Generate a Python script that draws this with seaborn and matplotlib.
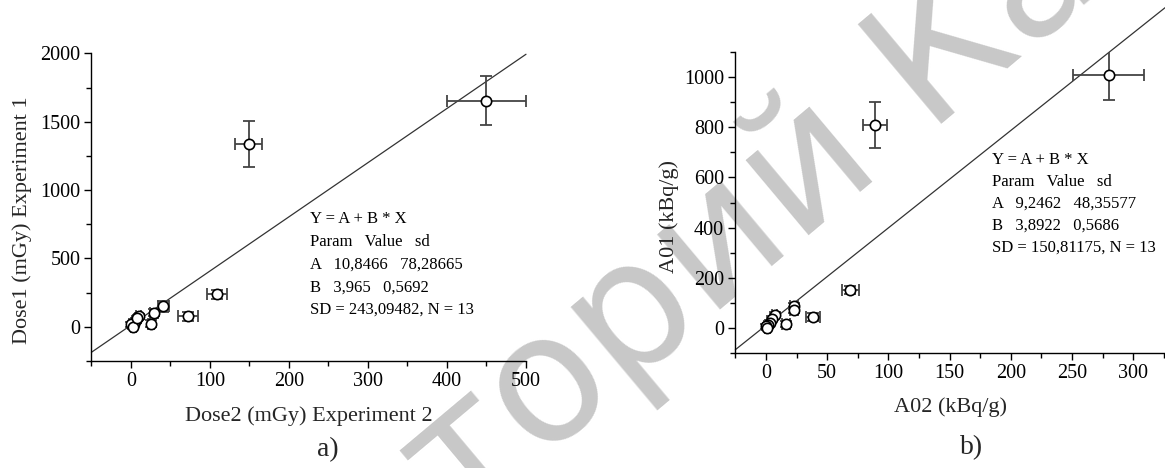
import matplotlib
matplotlib.use("Agg")
import matplotlib.pyplot as plt
import numpy as np
import pandas as pd
import seaborn as sns
from matplotlib.ticker import MultipleLocator

# panel a) Dose2 vs Dose1
dose2 = [450, 149, 109, 72, 41, 29, 25, 10, 6, 4, 0, 3, 8]
dose1 = [1654, 1334, 238, 76, 150, 101, 22, 76, 47, 22, 17, 0, 60]
dose2_err = [50, 17, 12.5, 13, 7, 5, 4, 3, 3, 3, 3, 3, 3]
dose1_err = [180, 168, 32, 33, 40, 25, 25, 20, 20, 20, 20, 20, 20]
fit_a = (10.8466, 3.965)
text_a = ["Y = A + B * X", "Param   Value   sd", "A   10,8466   78,28665",
          "B   3,965   0,5692", "SD = 243,09482, N = 13"]

# panel b) A02 vs A01
a02 = [280, 89, 69, 38.5, 23, 23, 16.5, 7, 5, 3, 2, 0, 1]
a01 = [1009, 811, 151, 42, 87, 71, 15, 51, 35, 20, 10, 5, 0]
a02_err = [29, 9.5, 7, 6, 3, 3, 3, 2, 2, 2, 2, 2, 2]
a01_err = [98, 92, 15, 15, 12, 12, 12, 10, 10, 10, 10, 10, 10]
fit_b = (9.2462, 3.8922)
text_b = ["Y = A + B * X", "Param   Value   sd", "A   9,2462   48,35577",
          "B   3,8922   0,5686", "SD = 150,81175, N = 13"]

sns.set_theme(style="ticks")
plt.rcParams["font.family"] = ["Liberation Serif", "DejaVu Serif"]

fig = plt.figure(figsize=(11.65, 4.68), dpi=100)
ax1 = fig.add_axes([0.0785, 0.229, 0.373, 0.657])
ax2 = fig.add_axes([0.6312, 0.2464, 0.3688, 0.6418])

# watermark (partly outside the frame, as in the scan)
fig.text(752 / 1165, 1 - 218 / 468, "торий Ка", fontsize=128, color="#c8c8c8",
         family="DejaVu Sans", rotation=40,
         rotation_mode="anchor", ha="center", va="center", zorder=-5)


def panel(ax, x, y, xerr, yerr, fit, xlim, ylim, lines, tx, ty, dy):
    ax.set_facecolor("none")
    xs = np.array(xlim, dtype=float)
    ax.plot(xs, fit[0] + fit[1] * xs, color="#333333", lw=0.9, clip_on=False, zorder=1)
    ax.errorbar(x, y, xerr=xerr, yerr=yerr, fmt="none", ecolor="#444444",
                elinewidth=1.3, capsize=4, capthick=1.3, zorder=2)
    df = pd.DataFrame({"x": x, "y": y})
    sns.scatterplot(data=df, x="x", y="y", ax=ax, s=55, facecolor="white",
                    edgecolor="black", linewidth=1.2, zorder=3)
    ax.set_xlim(*xlim)
    ax.set_ylim(*ylim)
    sns.despine(ax=ax)
    for s in ("left", "bottom"):
        ax.spines[s].set_linewidth(1.0)
        ax.spines[s].set_color("black")
    ax.tick_params(which="major", direction="out", length=5, width=1, labelsize=14.5,
                   color="black", labelcolor="black", pad=3)
    ax.tick_params(which="minor", direction="out", length=3.5, width=1, color="black")
    for i, line in enumerate(lines):
        ax.text(tx, ty - i * dy, line, transform=ax.transAxes, fontsize=12,
                ha="left", va="center", color="black")


panel(ax1, dose2, dose1, dose2_err, dose1_err, fit_a, (-50, 500), (-250, 2000),
      text_a, 0.503, 0.461, 0.0738)
ax1.xaxis.set_major_locator(MultipleLocator(100))
ax1.xaxis.set_minor_locator(MultipleLocator(50))
ax1.yaxis.set_major_locator(MultipleLocator(500))
ax1.yaxis.set_minor_locator(MultipleLocator(250))
ax1.set_xlabel("Dose2 (mGy) Experiment 2", fontsize=16)
ax1.set_ylabel("Dose1 (mGy) Experiment 1", fontsize=16)
ax1.xaxis.set_label_coords(0.5, -0.147)
ax1.yaxis.set_label_coords(-0.137, 0.458)

panel(ax2, a02, a01, a02_err, a01_err, fit_b, (-25, 326), (-100, 1100),
      text_b, 0.597, 0.6415, 0.0732)
ax2.xaxis.set_major_locator(MultipleLocator(50))
ax2.xaxis.set_minor_locator(MultipleLocator(25))
ax2.yaxis.set_major_locator(MultipleLocator(200))
ax2.yaxis.set_minor_locator(MultipleLocator(100))
ax2.set_yticks([0, 200, 400, 600, 800, 1000])
ax2.set_xlabel("A02 (kBq/g)", fontsize=16)
ax2.set_ylabel("A01 (kBq/g)", fontsize=16)
ax2.xaxis.set_label_coords(0.5, -0.147)
ax2.yaxis.set_label_coords(-0.131, 0.452)

fig.text(328 / 1165, 1 - 450 / 468, "a)", fontsize=20, ha="center", va="center")
fig.text(972 / 1165, 1 - 448 / 468, "b)", fontsize=20, ha="center", va="center")

fig.savefig("out.png", dpi=100)
